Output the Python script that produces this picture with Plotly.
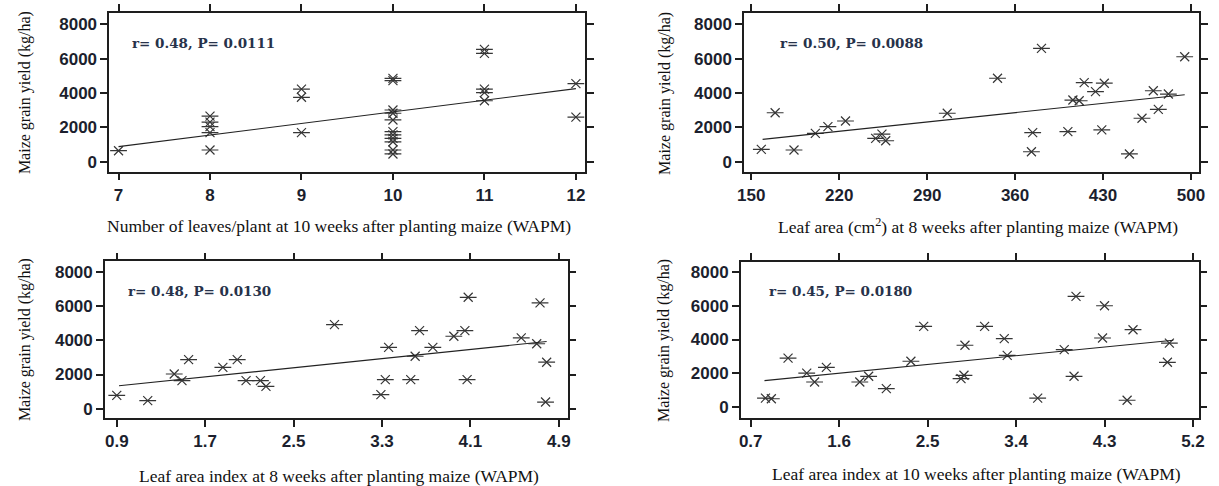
import plotly.graph_objects as go

# ---------------- data ----------------
yield_ticks = [0, 2000, 4000, 6000, 8000]

# Panel 1: number of leaves/plant at 10 WAPM
leaves_x = [7,
            8, 8, 8, 8, 8,
            9, 9, 9,
            10, 10, 10, 10, 10, 10, 10, 10, 10, 10, 10,
            11, 11, 11, 11, 11,
            12, 12]
leaves_yield = [640,
                2650, 2300, 2040, 1690, 680,
                4230, 3750, 1690,
                4850, 4720, 3010, 2820, 2430, 1750, 1560, 1360, 1160, 680, 450,
                6540, 6310, 4230, 4020, 3550,
                4550, 2600]
leaves_trend_x = [7, 12]
leaves_trend_y = [875, 4255]
leaves_ticks = [7, 8, 9, 10, 11, 12]
leaves_stat = "r= 0.48, P= 0.0111"

# Panel 2: leaf area (cm2) at 8 WAPM
area_x = [158, 169, 184, 201, 211, 225, 249, 254, 257, 306, 346, 373, 374, 381,
          402, 406, 411, 415, 424, 429, 431, 451, 461, 470, 474, 482, 495]
area_yield = [720, 2850, 680, 1650, 2040, 2370, 1360, 1610, 1220, 2820, 4860, 580,
              1690, 6600, 1750, 3590, 3550, 4600, 4080, 1850, 4570, 450, 2530, 4130,
              3050, 3940, 6110]
area_trend_x = [159, 495]
area_trend_y = [1300, 3900]
area_ticks = [150, 220, 290, 360, 430, 500]
area_stat = "r= 0.50, P= 0.0088"

# Panel 3: leaf area index at 8 WAPM
lai8_x = [0.90, 1.18, 1.42, 1.49, 1.55, 1.86, 1.99, 2.07, 2.20, 2.25, 2.87, 3.29,
          3.33, 3.36, 3.56, 3.60, 3.64, 3.76, 3.95, 4.05, 4.08, 4.07, 4.56, 4.70,
          4.73, 4.79, 4.78]
lai8_yield = [780, 470, 2030, 1640, 2870, 2420, 2870, 1640, 1640, 1310, 4920, 820,
              1700, 3590, 1700, 3070, 4570, 3590, 4240, 4570, 6520, 1700, 4140, 3800,
              6190, 2720, 390]
lai8_trend_x = [0.92, 4.79]
lai8_trend_y = [1340, 3930]
lai8_ticks = [0.9, 1.7, 2.5, 3.3, 4.1, 4.9]
lai8_stat = "r= 0.48, P= 0.0130"

# Panel 4: leaf area index at 10 WAPM
lai10_x = [0.85, 0.91, 1.08, 1.27, 1.35, 1.47, 1.81, 1.90, 2.08, 2.33, 2.46, 2.84,
           2.87, 2.88, 3.08, 3.28, 3.31, 3.62, 3.89, 3.99, 4.01, 4.28, 4.30, 4.53,
           4.59, 4.94, 4.96]
lai10_yield = [530, 490, 2900, 2010, 1480, 2350, 1480, 1820, 1090, 2710, 4780, 1680,
               1880, 3660, 4780, 4050, 3060, 530, 3400, 1820, 6560, 4090, 6000, 400,
               4580, 2650, 3790]
lai10_trend_x = [0.84, 5.0]
lai10_trend_y = [1560, 3960]
lai10_ticks = [0.7, 1.6, 2.5, 3.4, 4.3, 5.2]
lai10_stat = "r= 0.45, P= 0.0180"

y_title = "Maize grain yield (kg/ha)"
x_titles = [
    "Number of leaves/plant at 10 weeks after planting maize (WAPM)",
    "Leaf area (cm<sup>2</sup>) at 8 weeks after planting maize (WAPM)",
    "Leaf area index at 8 weeks after planting maize (WAPM)",
    "Leaf area index at 10 weeks after planting maize (WAPM)",
]

# ---------------- figure ----------------
W, H = 1219, 486
def px(v):
    return v / W
def py(v):
    return 1 - v / H

panels = [
    dict(x=leaves_x, y=leaves_yield, tx=leaves_trend_x, ty=leaves_trend_y, ticks=leaves_ticks,
         stat=leaves_stat, xdom=[px(103.3), px(584)], ydom=[py(171.7), py(12.7)],
         xr=[6.898, 12.097], yr=[-582, 8675],
         stat_pos=(124, 43.3), xt_pos=(336, 226), yt_pos=(18.3, 93)),
    dict(x=area_x, y=area_yield, tx=area_trend_x, ty=area_trend_y, ticks=area_ticks,
         stat=area_stat, xdom=[px(745), px(1205)], ydom=[py(171.7), py(12.7)],
         xr=[144.25, 506.5], yr=[-582, 8675],
         stat_pos=(779.5, 43.3), xt_pos=(981, 226), yt_pos=(665, 93)),
    dict(x=lai8_x, y=lai8_yield, tx=lai8_trend_x, ty=lai8_trend_y, ticks=lai8_ticks,
         stat=lai8_stat, xdom=[px(99), px(566.7)], ydom=[py(418.3), py(261.3)],
         xr=[0.793, 4.98], yr=[-562, 8626],
         stat_pos=(120.5, 291.3), xt_pos=(336, 476), yt_pos=(18.3, 340)),
    dict(x=lai10_x, y=lai10_yield, tx=lai10_trend_x, ty=lai10_trend_y, ticks=lai10_ticks,
         stat=lai10_stat, xdom=[px(741.7), px(1204.5)], ydom=[py(418), py(262)],
         xr=[0.599, 5.258], yr=[-652, 8593],
         stat_pos=(768.5, 291.3), xt_pos=(980, 474), yt_pos=(664, 340)),
]

marker_color = "#363636"
axis_color = "#1e1e1e"
tick_font = dict(family="Liberation Sans, Arial, sans-serif", size=17, color="#1c1f2e",
                 weight="bold")
title_font = dict(family="Liberation Serif, Times New Roman, serif", size=17.5, color="#111111")
ytitle_font = dict(family="Liberation Serif, Times New Roman, serif", size=16, color="#111111")
stat_font = dict(family="DejaVu Serif, serif", size=13.5, color="#27324a")

fig = go.Figure()
layout = dict(width=W, height=H, margin=dict(l=0, r=0, t=0, b=0),
              paper_bgcolor="white", plot_bgcolor="white", showlegend=False)
annotations = []

for i, p in enumerate(panels):
    n = "" if i == 0 else str(i + 1)
    xa, ya = "x" + n, "y" + n
    # asterisk markers: X + horizontal bar
    fig.add_trace(go.Scatter(x=p["x"], y=p["y"], mode="markers", xaxis=xa, yaxis=ya,
                             marker=dict(symbol="x-thin-open", size=9, color=marker_color,
                                         line=dict(width=1.2, color=marker_color)),
                             hoverinfo="skip"))
    fig.add_trace(go.Scatter(x=p["x"], y=p["y"], mode="markers", xaxis=xa, yaxis=ya,
                             marker=dict(symbol="line-ew-open", size=12, color=marker_color,
                                         line=dict(width=1.2, color=marker_color)),
                             hoverinfo="skip"))
    fig.add_trace(go.Scatter(x=p["tx"], y=p["ty"], mode="lines", xaxis=xa, yaxis=ya,
                             line=dict(color="#222222", width=1.1), hoverinfo="skip"))
    layout["xaxis" + n] = dict(domain=p["xdom"], range=p["xr"], anchor=ya,
                               tickmode="array", tickvals=p["ticks"],
                               ticktext=[str(t) for t in p["ticks"]],
                               showgrid=False, zeroline=False, showline=True,
                               linecolor=axis_color, linewidth=1.5, mirror="allticks",
                               ticks="outside", ticklen=7, tickwidth=1.5, tickcolor=axis_color,
                               tickfont=tick_font)
    layout["yaxis" + n] = dict(domain=p["ydom"], range=p["yr"], anchor=xa,
                               tickmode="array", tickvals=yield_ticks,
                               ticktext=[str(t) for t in yield_ticks],
                               showgrid=False, zeroline=False, showline=True,
                               linecolor=axis_color, linewidth=1.5, mirror="allticks",
                               ticks="outside", ticklen=7, tickwidth=1.5, tickcolor=axis_color,
                               tickfont=tick_font)
    annotations.append(dict(text="<b>" + p["stat"] + "</b>", xref="paper", yref="paper",
                            x=px(p["stat_pos"][0]), y=py(p["stat_pos"][1]),
                            xanchor="left", yanchor="middle", showarrow=False, font=stat_font))
    annotations.append(dict(text=x_titles[i], xref="paper", yref="paper",
                            x=px(p["xt_pos"][0]), y=py(p["xt_pos"][1]),
                            xanchor="center", yanchor="middle", showarrow=False, font=title_font))
    annotations.append(dict(text=y_title, xref="paper", yref="paper", textangle=-90,
                            x=px(p["yt_pos"][0]), y=py(p["yt_pos"][1]),
                            xanchor="center", yanchor="middle", showarrow=False, font=ytitle_font))

layout["annotations"] = annotations
fig.update_layout(**layout)

fig.write_html("out.html", config={"displayModeBar": False},
               post_script="document.body.style.margin='0';document.body.style.overflow='hidden';")
